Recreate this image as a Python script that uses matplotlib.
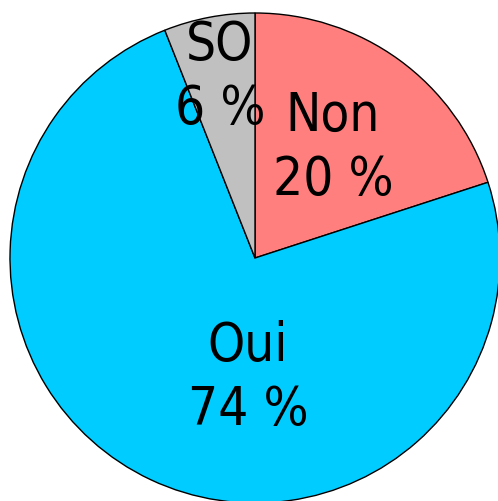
import matplotlib
matplotlib.use("Agg")
import matplotlib.pyplot as plt
from matplotlib import font_manager

labels = ["Non", "Oui", "SO"]
values = [20, 74, 6]
colors = ["#FF7F7F", "#00CCFF", "#C0C0C0"]

fp = font_manager.FontProperties(family="DejaVu Sans", stretch="condensed", size=38)

W, H = 498, 501
fig = plt.figure(figsize=(W / 100, H / 100), dpi=100)
ax = fig.add_axes([0, 0, 1, 1])
cx, cy, r = 255, H - 258, 245
wedges, _ = ax.pie(values, colors=colors, startangle=90, counterclock=False,
                   center=(cx, cy), radius=r,
                   wedgeprops=dict(edgecolor="black", linewidth=1.0))
ax.set_xlim(0, W)
ax.set_ylim(0, H)
ax.set_aspect("equal")
ax.axis("off")

pos = {"Non": (333, 148), "Oui": (248, 378), "SO": (220, 77)}
for lab, v in zip(labels, values):
    x, y = pos[lab]
    ax.text(x, H - y, f"{lab}\n{v} %", ha="center", va="center",
            fontproperties=fp, linespacing=1.3)

fig.savefig("out.png", dpi=100)
